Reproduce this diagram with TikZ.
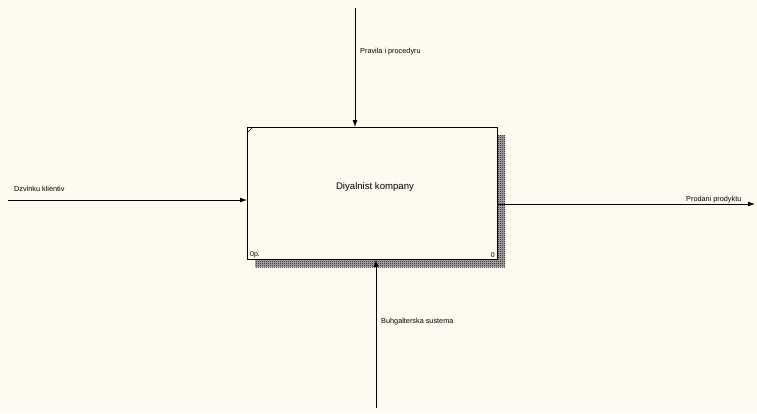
\documentclass[tikz,border=0pt]{standalone}
\usepackage{fontspec}
\setmainfont{Liberation Sans}
\usetikzlibrary{arrows.meta,patterns}
\definecolor{bgc}{HTML}{FFFAF0}
\pgfdeclarepatternformonly{chk}{\pgfpointorigin}{\pgfpoint{2pt}{2pt}}{\pgfpoint{2pt}{2pt}}{%
  \pgfpathrectangle{\pgfpointorigin}{\pgfpoint{1pt}{1pt}}%
  \pgfpathrectangle{\pgfpoint{1pt}{1pt}}{\pgfpoint{1pt}{1pt}}%
  \pgfusepath{fill}}
\begin{document}
\begin{tikzpicture}[x=1pt,y=-1pt,
  arr/.style={draw=black,line width=0.8pt,-{Latex[length=7pt,width=5pt]}},
  lbl/.style={font=\fontsize{7.3}{8}\selectfont,inner sep=0pt,anchor=west},
  small/.style={font=\fontsize{7}{8}\selectfont,inner sep=0pt},
  shadow/.style={fill=black!30,postaction={pattern=chk,pattern color=black}}]
\fill[bgc] (0,0) rectangle (757,413);
\useasboundingbox (0,0) rectangle (757,413);
% shadow
\path[shadow] (497,135) rectangle (505,267);
\path[shadow] (255,259) rectangle (497,267);
\node[draw=black,line width=0.8pt,fill=bgc,minimum width=250pt,minimum height=132pt,anchor=north west,inner sep=0pt] (box) at (247,127) {};
\node[font=\fontsize{9.6}{11}\selectfont] (t) at (375,187) {Diyalnist kompany};
\draw[line width=0.5pt] ([yshift=-6pt]box.north west) -- ([xshift=6pt]box.north west);
\node[small,anchor=south west] (op) at (250,258) {0p.};
\node[small,anchor=south east] (zero) at (495,258) {0};
% ends
\coordinate (ctop) at (355,8);
\coordinate (cleft) at (8,200);
\coordinate (cright) at (755,204);
\coordinate (cbot) at (376,408);
\draw[arr] (ctop) -- (ctop |- box.north);
\draw[arr] (cleft) -- (cleft -| box.west);
\draw[arr] (cright -| box.east) -- (cright);
\draw[arr] (cbot) -- (cbot |- box.south);
% labels
\node[lbl] (lc) at (360,52) {Pravila i procedyru};
\node[lbl] (li) at (14,189) {Dzvinku klientiv};
\node[lbl] (lo) at (686,200) {Prodani prodyktu};
\node[lbl] (lm) at (381,322) {Buhgalterska sustema};
\end{tikzpicture}
\end{document}
